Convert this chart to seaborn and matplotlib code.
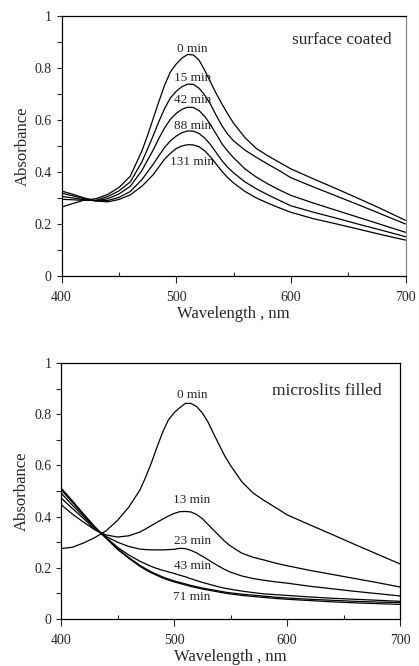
import numpy as np
import pandas as pd
import matplotlib
matplotlib.use("Agg")
import matplotlib.pyplot as plt
import seaborn as sns
from matplotlib.ticker import MultipleLocator

# Wavelength grid (nm) shared by all spectra, denser around the plasmon peak
wavelength = [400, 410, 420, 430, 440, 450, 460, 470, 475, 480, 485, 490, 495, 500, 505, 510, 515,
              520, 525, 530, 535, 540, 545, 550, 560, 570, 580, 590, 600, 620, 640, 660, 680, 700]

# Top panel: surface coated
coated_0 = [0.265, 0.279, 0.292, 0.297, 0.313, 0.340, 0.384, 0.480, 0.540, 0.606, 0.672, 0.735, 0.785,
            0.815, 0.838, 0.852, 0.850, 0.830, 0.790, 0.745, 0.701, 0.661, 0.623, 0.588, 0.532, 0.490,
            0.462, 0.437, 0.412, 0.373, 0.335, 0.296, 0.256, 0.214]
coated_15 = [0.295, 0.293, 0.291, 0.291, 0.305, 0.327, 0.362, 0.438, 0.488, 0.540, 0.595, 0.645, 0.685,
             0.710, 0.728, 0.738, 0.737, 0.722, 0.695, 0.660, 0.617, 0.577, 0.545, 0.520, 0.484, 0.456,
             0.430, 0.405, 0.378, 0.342, 0.307, 0.272, 0.236, 0.200]
coated_42 = [0.306, 0.300, 0.293, 0.289, 0.297, 0.315, 0.345, 0.405, 0.445, 0.485, 0.530, 0.570, 0.603,
             0.625, 0.641, 0.649, 0.648, 0.636, 0.613, 0.582, 0.545, 0.508, 0.480, 0.455, 0.412, 0.380,
             0.354, 0.331, 0.310, 0.280, 0.252, 0.224, 0.196, 0.168]
coated_88 = [0.319, 0.308, 0.297, 0.289, 0.290, 0.302, 0.325, 0.370, 0.400, 0.430, 0.463, 0.495, 0.520,
             0.538, 0.551, 0.558, 0.557, 0.548, 0.530, 0.505, 0.474, 0.443, 0.418, 0.397, 0.362, 0.335,
             0.312, 0.291, 0.270, 0.245, 0.222, 0.198, 0.175, 0.151]
coated_131 = [0.327, 0.314, 0.300, 0.289, 0.285, 0.294, 0.312, 0.345, 0.367, 0.390, 0.420, 0.450, 0.472,
              0.490, 0.500, 0.505, 0.504, 0.497, 0.481, 0.458, 0.430, 0.402, 0.378, 0.358, 0.325, 0.300,
              0.280, 0.262, 0.245, 0.220, 0.200, 0.179, 0.158, 0.138]
coated_curves = [coated_0, coated_15, coated_42, coated_88, coated_131]
coated_labels = ["0 min", "15 min", "42 min", "88 min", "131 min"]
coated_label_y = [0.873, 0.762, 0.677, 0.577, 0.438]

# Bottom panel: microslits filled (two late spectra almost overlap under "71 min")
filled_0 = [0.275, 0.280, 0.297, 0.318, 0.345, 0.385, 0.437, 0.505, 0.555, 0.610, 0.672, 0.730, 0.777,
            0.805, 0.825, 0.842, 0.842, 0.830, 0.805, 0.770, 0.724, 0.680, 0.636, 0.600, 0.536, 0.492,
            0.462, 0.435, 0.407, 0.368, 0.330, 0.291, 0.253, 0.215]
filled_13 = [0.447, 0.410, 0.378, 0.348, 0.328, 0.320, 0.325, 0.340, 0.352, 0.365, 0.378, 0.390, 0.402,
             0.412, 0.419, 0.420, 0.418, 0.408, 0.392, 0.370, 0.347, 0.325, 0.303, 0.285, 0.257, 0.241,
             0.230, 0.218, 0.208, 0.190, 0.174, 0.158, 0.142, 0.125]
filled_23 = [0.473, 0.432, 0.392, 0.350, 0.322, 0.300, 0.283, 0.273, 0.271, 0.270, 0.270, 0.270, 0.271,
             0.272, 0.276, 0.275, 0.268, 0.258, 0.245, 0.232, 0.218, 0.205, 0.193, 0.183, 0.168, 0.158,
             0.151, 0.145, 0.140, 0.128, 0.118, 0.108, 0.099, 0.090]
filled_43 = [0.492, 0.445, 0.400, 0.355, 0.318, 0.280, 0.250, 0.225, 0.215, 0.205, 0.197, 0.190, 0.184,
             0.178, 0.171, 0.165, 0.157, 0.150, 0.143, 0.137, 0.131, 0.125, 0.120, 0.116, 0.109, 0.103,
             0.098, 0.095, 0.092, 0.086, 0.081, 0.077, 0.073, 0.069]
filled_71 = [0.512, 0.462, 0.410, 0.360, 0.315, 0.272, 0.237, 0.205, 0.192, 0.180, 0.170, 0.160, 0.152,
             0.145, 0.139, 0.133, 0.127, 0.122, 0.117, 0.113, 0.109, 0.105, 0.101, 0.098, 0.092, 0.088,
             0.084, 0.080, 0.077, 0.072, 0.067, 0.063, 0.060, 0.057]
filled_last = [0.505, 0.456, 0.406, 0.358, 0.316, 0.275, 0.240, 0.209, 0.196, 0.184, 0.174, 0.164, 0.156,
               0.149, 0.143, 0.137, 0.131, 0.126, 0.121, 0.117, 0.113, 0.109, 0.105, 0.102, 0.097, 0.093,
               0.089, 0.085, 0.082, 0.077, 0.073, 0.069, 0.066, 0.064]
filled_curves = [filled_0, filled_13, filled_23, filled_43, filled_71, filled_last]
filled_labels = ["0 min", "13 min", "23 min", "43 min", "71 min"]
filled_label_y = [0.876, 0.466, 0.303, 0.208, 0.086]

sns.set_style("ticks")
plt.rcParams['font.family'] = ['Liberation Serif', 'DejaVu Serif']

fig = plt.figure(figsize=(4.19, 6.66), dpi=100)
ax1 = fig.add_axes([0.1468, 0.5856, 0.8210, 0.3904])
ax2 = fig.add_axes([0.1456, 0.0706, 0.8091, 0.3844])


def draw_panel(ax, curves, labels, label_y, label_x, title, title_x, title_y):
    for vals in curves:
        sns.lineplot(x=wavelength, y=vals, ax=ax, color='black', linewidth=0.9)
    for lab, ly in zip(labels, label_y):
        ax.text(label_x, ly, lab, ha='center', va='center', fontsize=9.5)
    ax.text(title_x, title_y, title, ha='right', va='center', fontsize=12.5)
    ax.set_xlim(400, 700)
    ax.set_ylim(0, 1)
    ax.xaxis.set_major_locator(MultipleLocator(100))
    ax.xaxis.set_minor_locator(MultipleLocator(50))
    ax.yaxis.set_minor_locator(MultipleLocator(0.1))
    ax.set_yticks([0, 0.2, 0.4, 0.6, 0.8, 1.0])
    ax.set_yticklabels(['0', '0.2', '0.4', '0.6', '0.8', '1'])
    ax.tick_params(axis='x', which='major', direction='out', length=5, width=0.8,
                   labelsize=10, pad=6)
    ax.tick_params(axis='x', which='minor', direction='in', length=3, width=0.8)
    ax.tick_params(axis='y', which='both', direction='out', length=3.5, width=0.8, labelsize=10)
    ax.set_xlabel('Wavelength , nm', fontsize=12, labelpad=1)
    ax.set_ylabel('Absorbance', fontsize=12, labelpad=3)
    for s in ax.spines.values():
        s.set_color('black')
        s.set_linewidth(0.9)


draw_panel(ax1, coated_curves, coated_labels, coated_label_y, 514,
           'surface coated', 688, 0.908)
ax1.spines['right'].set_color('#888888')
draw_panel(ax2, filled_curves, filled_labels, filled_label_y, 516,
           'microslits filled', 684, 0.889)

fig.savefig('out.png', dpi=100)
